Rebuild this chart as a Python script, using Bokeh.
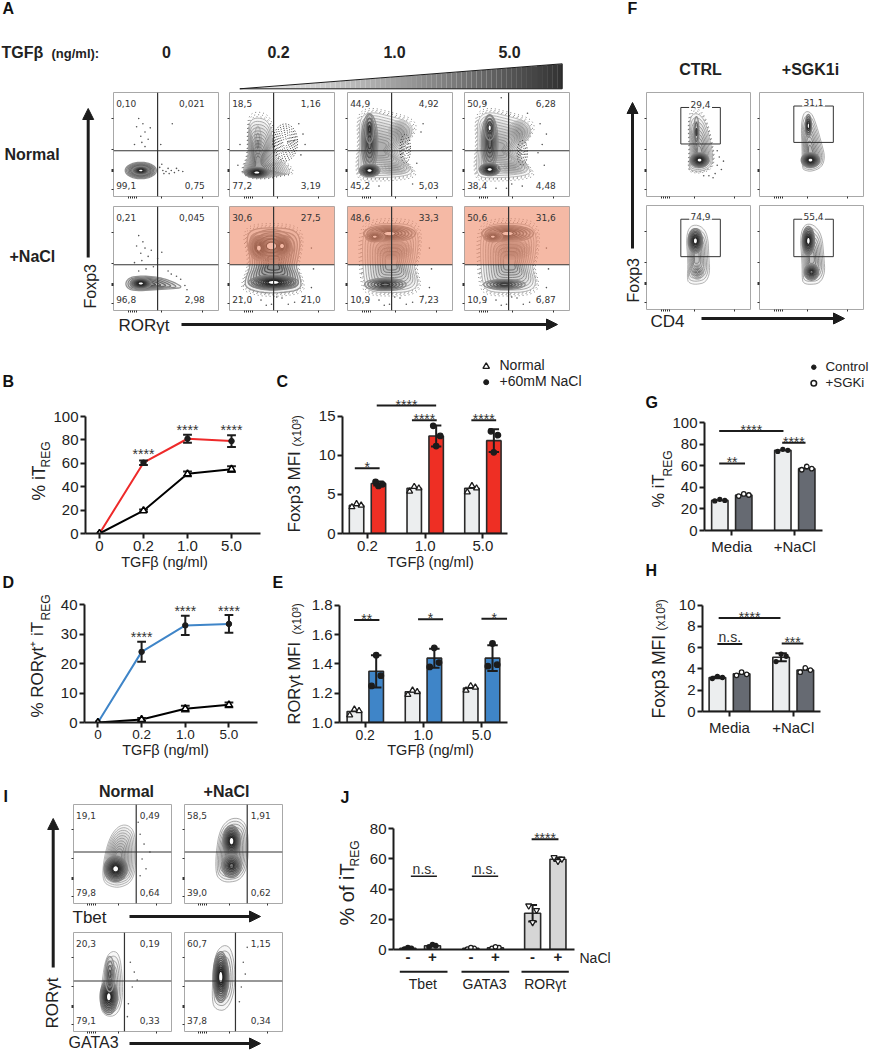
import math
import numpy as np
from bokeh.plotting import figure
from bokeh.layouts import column
from bokeh.embed import file_html
from bokeh.resources import INLINE
from bokeh.core.properties import value
from bokeh.models import Range1d, FixedTicker, NumeralTickFormatter, Arrow, NormalHead

# ---------- data: line charts ----------
tgf_line = ["0", "0.2", "1.0", "5.0"]
tgf_bar = ["0.2", "1.0", "5.0"]
B_normal = [0, 19.5, 51, 55]
B_normal_err = [0, 1, 2, 2.5]
B_nacl = [0, 60.5, 81, 79]
B_nacl_err = [0, 2, 3.5, 5]
D_normal = [0, 1, 4.7, 6]
D_normal_err = [0, 0.5, 1, 0.8]
D_nacl = [0, 24, 33, 33.5]
D_nacl_err = [0, 3.4, 3.3, 3]

# ---------- data: bar charts ----------
C_normal = [3.6, 5.8, 5.8]
C_nacl = [6.4, 12.5, 11.9]
C_normal_pts = [[3.4, 3.6, 3.8], [5.4, 5.8, 6.0], [5.3, 5.8, 6.1]]
C_nacl_pts = [[6.1, 6.3, 6.6], [11.2, 12.5, 13.8], [10.4, 12.6, 13.1]]
C_nacl_err = [0.25, 1.35, 1.45]
E_normal = [1.075, 1.21, 1.235]
E_nacl = [1.35, 1.44, 1.44]
E_normal_pts = [[1.05, 1.08, 1.09], [1.19, 1.21, 1.22], [1.22, 1.24, 1.25]]
E_nacl_pts = [[1.25, 1.32, 1.46], [1.38, 1.41, 1.51], [1.385, 1.395, 1.54]]
E_nacl_err = [0.11, 0.065, 0.088]
group_GH = ["Media", "+NaCl"]
G_ctrl = [28, 74.5]
G_sgk = [33, 57.5]
G_ctrl_pts = [[27.5, 28, 29], [73.5, 74.5, 75.5]]
G_sgk_pts = [[32, 33, 34], [56.5, 57.5, 59.5]]
H_ctrl = [3.2, 5.1]
H_sgk = [3.55, 3.9]
H_ctrl_pts = [[3.1, 3.2, 3.3], [4.7, 5.2, 5.4]]
H_sgk_pts = [[3.4, 3.5, 3.7], [3.7, 3.9, 4.1]]
H_ctrl_err = [0.08, 0.38]
J_pos = [0, 1, 2.56, 3.56, 5.07, 6.1]
J_signs = ["-", "+", "-", "+", "-", "+"]
J_vals = [0.8, 2.5, 0.8, 1.2, 24, 59.8]
J_pts = [[0.3, 0.7, 1.2], [1.7, 2.5, 3.2], [0.2, 0.7, 1.2], [0.7, 1.3, 1.8], [18, 26, 29], [58.5, 60, 61]]
J_err = [0.4, 0.7, 0.5, 0.5, 5.5, 1.2]

# ---------- data: flow panel gates and percentages ----------
A_labels = [
    ["0,10", "0,021", "99,1", "0,75"], ["18,5", "1,16", "77,2", "3,19"],
    ["44,9", "4,92", "45,2", "5,03"], ["50,9", "6,28", "38,4", "4,48"],
    ["0,21", "0,045", "96,8", "2,98"], ["30,6", "27,5", "21,0", "21,0"],
    ["48,6", "33,3", "10,9", "7,23"], ["50,6", "31,6", "10,9", "6,87"],
]
F_labels = ["29,4", "31,1", "74,9", "55,4"]
I_labels = [
    ["19,1", "0,49", "79,8", "0,64"], ["58,5", "1,91", "39,0", "0,62"],
    ["20,3", "0,19", "79,1", "0,33"], ["60,7", "1,15", "37,8", "0,34"],
]
flow_xticks = [14, 16, 18, 20, 22, 46, 85]
flow_yticks = [7, 24, 25, 26, 45, 75]

FONT = "Liberation Sans"
INK = "#1c1c1c"
figs = []


def place(fig, x, y, z=1):
    fig.frame_align = False
    fig.styles = {"position": "absolute", "left": f"{x}px", "top": f"{y}px", "z-index": str(z)}
    figs.append(fig)


# ---------- contour helpers ----------
def E(cx, cy, rx, ry, n=8, s=0.8):
    t = np.linspace(0, 2 * math.pi, 20)[:-1]
    return (list(cx + rx * np.cos(t)), list(cy + ry * np.sin(t)), cx, cy, n, s)


def P(pts, core, n=8, s=0.5):
    return ([a for a, _ in pts], [b for _, b in pts], core[0], core[1], n, s)


def smooth(xs, ys):
    a = np.array([xs, ys], dtype=float).T
    for _ in range(2):
        b = np.roll(a, -1, axis=0)
        a = np.stack([0.75 * a + 0.25 * b, 0.25 * a + 0.75 * b], axis=1).reshape(-1, 2)
    a = np.vstack([a, a[:1]])
    return a[:, 0], a[:, 1]


def flow(x, y, w, h, vl, hl, labels, shapes, stip=(), dots=(), pink=False, rx=87, gate=None, halo=True):
    ML, MB, MT, MR = 5, 5, 1, 1
    p = figure(width=w + ML + MR, height=h + MB + MT, x_range=Range1d(0, 100), y_range=Range1d(0, 100),
               output_backend="svg", toolbar_location=None, min_border_left=ML, min_border_bottom=MB,
               min_border_top=MT, min_border_right=MR, outline_line_color="#a8a8a8", outline_line_width=1,
               background_fill_color="white", border_fill_color=None)
    p.grid.visible = False
    for ax, ticks in ((p.xaxis[0], flow_xticks), (p.yaxis[0], flow_yticks)):
        ax.ticker = FixedTicker(ticks=ticks, minor_ticks=[])
        ax.major_label_overrides = {t: "" for t in ticks}
        ax.axis_line_color = None
        ax.major_tick_out = 2
        ax.major_tick_in = 0
        ax.major_tick_line_color = "#333333"
        ax.minor_tick_line_color = None
    xs, ys, cols, lw, al = [], [], [], [], []
    spots = []
    for k, (ox, oy, cx, cy, n, s) in enumerate(shapes):
        sx, sy = smooth(ox, oy)
        if k == 0 and halo:
            hx = [list(cx + (sx - cx) * f) for f in (1.03, 1.07, 1.12)]
            hy = [list(cy + (sy - cy) * f) for f in (1.03, 1.07, 1.12)]
            p.multi_line(hx, hy, line_color="#333333", line_width=1, line_dash="1 3", line_alpha=0.6)
        for f in np.linspace(1, 0.22, n):
            xs.append(list(cx + (sx - cx) * f))
            ys.append(list(cy + (sy - cy) * f))
            v = int(190 - 190 * s * (1 - f * 0.7))
            cols.append(f"#{v:02x}{v:02x}{v:02x}")
            lw.append(0.8 if s < 0.7 else 1.3)
            al.append(0.03 if s < 0.7 else 0.06)
        if s >= 0.95:
            spots.append((list(cx + (sx - cx) * 0.2), list(cy + (sy - cy) * 0.2)))
    p.patches(xs, ys, fill_color="black", fill_alpha=al, line_color=cols, line_width=lw)
    for sx, sy in spots:
        p.patch(sx, sy, fill_color="white", line_color=None)
    for (ox, oy, cx, cy, n, _) in stip:
        sx, sy = smooth(ox, oy)
        for f in np.linspace(1, 0.2, n):
            p.line(list(cx + (sx - cx) * f), list(cy + (sy - cy) * f), line_color="#222222", line_width=1, line_dash="1 2")
    if dots:
        p.scatter([a for a, _ in dots], [b for _, b in dots], size=1.6, color="#555555", line_color=None)
    if pink:
        p.quad(left=[0], right=[100], bottom=[hl], top=[100], fill_color="#ee8a69", fill_alpha=0.6, line_color=None)
    if gate is None:
        p.segment([vl, 0], [0, hl], [vl, 100], [100, hl], line_color="#333333", line_width=1.2)
        p.text([2.5, rx, 2.5, rx], [89, 89, 11, 11], text=labels,
               text_align=["left", "right", "left", "right"], text_baseline="middle",
               text_font=value("DejaVu Sans"), text_font_size="9px", text_color="#333333")
    else:
        gx0, gx1, gy0, gy1, lab = gate
        p.line([gx0, gx1, gx1, gx0, gx0], [gy0, gy0, gy1, gy1, gy0], line_color="#333333", line_width=1)
        mid = (gx0 + gx1) / 2
        p.quad(left=[mid - 11], right=[mid + 11], bottom=[gy1 - 0.5], top=[gy1 + 7], fill_color="white", line_color=None)
        p.text([mid], [gy1 + 3], text=[lab], text_align="center", text_baseline="middle",
               text_font=value("DejaVu Sans"), text_font_size="9px", text_color="#333333")
    place(p, x - ML, y - MT, 2)
    return p


# ---------- chart helpers ----------
def chart(left, right, y0, ymx, ylo, yhi, x0, step, ftop, yticks, xticks, xlabels, yfont="15px", xfont="15px", xtick=5):
    ML, MR, MT, MB = 40, 4, 4, 24
    scale = (yhi - ylo) / (y0 - ymx)
    yend = yhi + (ymx - ftop) * scale
    W, H = round(right - left), round(y0 - ftop)
    p = figure(width=W + ML + MR, height=H + MT + MB,
               x_range=Range1d((left - x0) / step, (right - x0) / step), y_range=Range1d(ylo, yend),
               output_backend="svg", toolbar_location=None, min_border_left=ML, min_border_right=MR,
               min_border_top=MT, min_border_bottom=MB, outline_line_color=None,
               background_fill_color=None, border_fill_color=None)
    p.grid.visible = False
    for ax in (p.xaxis[0], p.yaxis[0]):
        ax.axis_line_width = 2
        ax.axis_line_color = INK
        ax.major_tick_line_width = 2
        ax.major_tick_line_color = INK
        ax.major_tick_in = 0
        ax.major_tick_out = 5
        ax.minor_tick_line_color = None
        ax.major_label_text_font = FONT
        ax.major_label_text_color = "#222222"
        ax.major_label_standoff = 2
    p.yaxis[0].bounds = (ylo, yhi)
    p.yaxis[0].ticker = FixedTicker(ticks=yticks, minor_ticks=[])
    p.yaxis[0].major_label_text_font_size = yfont
    p.xaxis[0].ticker = FixedTicker(ticks=xticks, minor_ticks=[])
    p.xaxis[0].major_label_overrides = dict(zip(xticks, xlabels))
    p.xaxis[0].major_label_text_font_size = xfont
    p.xaxis[0].major_tick_out = xtick
    place(p, left - ML, ftop - MT, 3)
    return p


def sig(p, x0, x1, y, label="****", off=-1, lw=2):
    p.segment([x0], [y], [x1], [y], line_color=INK, line_width=lw)
    p.text([(x0 + x1) / 2], [y], text=[label], text_align="center", text_baseline="alphabetic", y_offset=off,
           text_font=value(FONT), text_font_size="14px", text_color="#333333")


def stars(p, xs, ys):
    p.text(xs, ys, text=["****"] * len(xs), text_align="center", text_baseline="alphabetic", y_offset=4,
           text_font=value(FONT), text_font_size="14px", text_color="#333333")


def errs(p, x, y, e, cap):
    x, y, e = map(np.array, (x, y, e))
    p.segment(x, y - e, x, y + e, line_color=INK, line_width=2)
    p.segment(x - cap, y + e, x + cap, y + e, line_color=INK, line_width=2)
    p.segment(x - cap, y - e, x + cap, y - e, line_color=INK, line_width=2)


def pts(p, x, rows, off, marker="circle", fill=INK, size=5.5):
    xs, ys = [], []
    for cx, row in zip(x, rows):
        for o, v in zip(off, row):
            xs.append(cx + o)
            ys.append(v)
    p.scatter(xs, ys, marker=marker, size=size, fill_color=fill, line_color=INK, line_width=1.3)


def line_chart(p, normal, nerr, nacl, aerr, col):
    x = list(range(4))
    p.line(x, nacl, line_color=col, line_width=2)
    p.line(x, normal, line_color="black", line_width=2)
    errs(p, x[1:], nacl[1:], aerr[1:], 0.1)
    errs(p, x[1:], normal[1:], nerr[1:], 0.1)
    p.scatter(x, nacl, marker="circle", size=5.5, color=INK)
    p.scatter(x, normal, marker="triangle", size=7, fill_color="white", line_color="black", line_width=1.6)


def bars(p, x, vals, bw, bottom, col):
    p.vbar(x=x, width=bw, top=vals, bottom=bottom, fill_color=col, line_color="#2a2a2a", line_width=1.6)


GREY_W = "#eceeef"
RED = "#ee2f24"
BLUE = "#3f85c8"
SLATE = "#666a72"
J_GREY = "#d6d6d6"
TRI = [-0.08, 0.08, 0.0]
OFF = [-0.08, 0.08, 0.0]

# ---------- B ----------
b = chart(85, 260, 532.7, 416, 0, 100, 99, 44, 405, [0, 20, 40, 60, 80, 100], [0, 1, 2, 3], tgf_line)
line_chart(b, B_normal, B_normal_err, B_nacl, B_nacl_err, "#ee2a2a")
stars(b, [1, 2, 3], [71.7, 92.3, 92.3])

# ---------- D ----------
d = chart(84.3, 257, 722.3, 604.3, 0, 40, 97.7, 43.6, 595, [0, 10, 20, 30, 40], [0, 1, 2, 3], tgf_line, xfont="13.5px")
line_chart(d, D_normal, D_normal_err, D_nacl, D_nacl_err, "#3f85c8")
stars(d, [1, 2, 3], [30.3, 39.2, 39.2])

# ---------- C ----------
c = chart(341.7, 506.7, 533.3, 416, 0, 15, 366.7, 57.7, 395, [0, 5, 10, 15], [0, 1, 2], tgf_bar)
cx = np.array([0, 1, 2])
bars(c, cx - 0.19, C_normal, 0.25, 0, GREY_W)
bars(c, cx + 0.19, C_nacl, 0.25, 0, RED)
errs(c, cx + 0.19, C_nacl, C_nacl_err, 0.09)
pts(c, cx - 0.19, C_normal_pts, TRI, "triangle", "white", 6)
pts(c, cx + 0.19, C_nacl_pts, [0.0, 0.07, -0.05])
sig(c, -0.22, 0.21, 8.35, "*")
sig(c, 0.16, 1.19, 16.4)
sig(c, 0.77, 1.2, 14.5)
sig(c, 1.8, 2.23, 14.5)

# ---------- E ----------
e = chart(339.3, 507.7, 722.3, 605, 1.0, 1.8, 365, 58.3, 595, [1.0, 1.2, 1.4, 1.6, 1.8], [0, 1, 2], tgf_bar, xfont="14px")
e.yaxis[0].formatter = NumeralTickFormatter(format="0.0")
bars(e, cx - 0.185, E_normal, 0.25, 1.0, GREY_W)
bars(e, cx + 0.19, E_nacl, 0.25, 1.0, BLUE)
errs(e, cx + 0.19, E_nacl, E_nacl_err, 0.09)
pts(e, cx - 0.185, E_normal_pts, TRI, "triangle", "white", 6)
pts(e, cx + 0.19, E_nacl_pts, [-0.08, 0.08, 0.0])
sig(e, -0.19, 0.245, 1.70, "**")
sig(e, 0.91, 1.34, 1.705, "*")
sig(e, 2.0, 2.44, 1.71, "*")

# ---------- G ----------
g = chart(703.7, 821.7, 533, 422.7, 0, 100, 731, 63, 412, [0, 20, 40, 60, 80, 100], [0, 1], group_GH)
gx = np.array([0, 1])
bars(g, gx - 0.19, G_ctrl, 0.26, 0, GREY_W)
bars(g, gx + 0.19, G_sgk, 0.26, 0, SLATE)
pts(g, gx - 0.19, G_ctrl_pts, OFF, size=4)
pts(g, gx + 0.19, G_sgk_pts, OFF, fill="white", size=4.5)
sig(g, -0.2, 0.21, 62.3, "**")
sig(g, -0.2, 0.82, 92.4)
sig(g, 0.8, 1.17, 81.5)

# ---------- H ----------
h = chart(702.3, 820.3, 714.3, 605, 0, 10, 729.3, 63.7, 596, [0, 2, 4, 6, 8, 10], [0, 1], group_GH)
bars(h, gx - 0.19, H_ctrl, 0.26, 0, GREY_W)
bars(h, gx + 0.19, H_sgk, 0.26, 0, SLATE)
errs(h, gx - 0.19, H_ctrl, H_ctrl_err, 0.09)
pts(h, gx - 0.19, H_ctrl_pts, OFF, size=4)
pts(h, gx + 0.19, H_sgk_pts, OFF, fill="white", size=4.5)
sig(h, -0.19, 0.2, 6.36, "n.s.", off=-7)
sig(h, -0.17, 0.8, 8.8)
sig(h, 0.82, 1.16, 6.4, "***")

# ---------- J ----------
j = chart(393.3, 574.3, 949.3, 828.3, 0, 80, 407.7, 24.6, 818, [0, 20, 40, 60, 80], J_pos, J_signs, xtick=0)
j.xaxis[0].major_label_text_font_style = "bold"
j.xaxis[0].major_label_text_font_size = "15px"
bars(j, J_pos, J_vals, 0.65, 0, J_GREY)
errs(j, J_pos[4:], J_vals[4:], J_err[4:], 0.18)
jj = np.array(J_pos)
pts(j, jj[:2], J_pts[:2], [-0.14, 0.14, 0.0], size=4.5)
pts(j, jj[2:4], J_pts[2:4], [-0.14, 0.14, 0.0], fill="white", size=4.5)
pts(j, jj[4:], J_pts[4:], [0.0, 0.16, -0.16], "inverted_triangle", "white", 6)
sig(j, 0.12, 1.18, 48.5, "n.s.", off=-7, lw=1.5)
sig(j, 2.6, 3.67, 48.5, "n.s.", off=-7, lw=1.5)
sig(j, 5.03, 6.12, 73.1)

# ---------- A: contour shapes ----------
A1_s = [E(26, 25, 15, 8, 10, 0.8), E(26, 25, 8, 4, 6, 1.0)]
A1_d = [(24, 75), (28, 70), (30, 62), (26, 58), (22, 67), (33, 55), (27, 52), (20, 50), (45, 50), (44, 28), (47, 25), (50, 24),
        (52, 27), (55, 25), (58, 23), (62, 25), (66, 24), (48, 22), (53, 22), (46, 31), (60, 27), (30, 48), (35, 66), (56, 70)]
A2_s = [P([(14, 22), (13, 27), (18, 38), (18, 60), (19, 72), (25, 76), (35, 74), (40, 65), (41, 45), (45, 36), (55, 30), (58, 22),
           (50, 21), (35, 18), (22, 18)], (27, 28), 13, 0.6),
        E(26, 23, 12, 5, 8, 1.0), E(27, 50, 3.5, 18, 3, 0.6)]
A2_st = [E(53, 52, 12, 18, 8)]
A3_out = [(12, 20), (10, 30), (12, 50), (11, 70), (15, 79), (25, 81), (37, 78), (45, 76), (58, 72), (63, 64), (56, 52), (50, 44),
          (53, 36), (60, 28), (62, 22), (50, 19), (30, 18), (18, 18)]
A3_s = [P(A3_out, (30, 45), 11, 0.4), E(21, 52, 8, 28, 6, 0.8), E(21, 25, 10, 6, 8, 1.0), E(21, 65, 4, 14, 4, 0.9),
        E(50, 62, 11, 11, 8, 0.25), E(45, 27, 15, 6, 5, 0.25)]
A3_st = [E(55, 46, 5, 14, 4)]
A4_out = [(x + 1, y) for x, y in A3_out]
A4_s = [P(A4_out, (31, 45), 11, 0.4), E(24, 52, 8, 27, 6, 0.8), E(24, 26, 10, 6, 8, 1.0), E(24, 66, 5, 12, 4, 0.95),
        E(52, 62, 11, 11, 8, 0.25), E(46, 28, 15, 6, 5, 0.25)]
A4_st = [E(55, 42, 5, 12, 4)]
A4_d = [(60, 80), (72, 70), (78, 60), (74, 50), (70, 42), (76, 30), (55, 10), (45, 12), (40, 8), (20, 90), (35, 95), (30, 8)]
A5_s = [P([(11, 25), (14, 31), (22, 33), (32, 33), (42, 32), (50, 30), (60, 26), (66, 22), (55, 21), (40, 20), (25, 19), (15, 20)],
          (27, 26), 7, 0.75), E(26, 26, 10, 5, 8, 1.0)]
A5_d = [(24, 72), (28, 66), (30, 60), (26, 55), (22, 62), (33, 52), (27, 48), (20, 46), (36, 58), (38, 42), (31, 40), (24, 38),
        (42, 50), (46, 56), (68, 24), (64, 30), (60, 33), (55, 35), (52, 38), (70, 20)]
A6_s = [P([(15, 22), (15, 30), (20, 42), (19, 55), (16, 68), (20, 78), (40, 80), (62, 78), (68, 68), (65, 50), (63, 42), (68, 30),
           (68, 20), (50, 17), (30, 17)], (42, 45), 9, 0.7),
        E(42, 27, 24, 7, 9, 1.0), E(28, 60, 9, 12, 7, 1.0), E(50, 62, 9, 10, 7, 1.0), E(40, 62, 22, 16, 5, 1.0)]
A7_out = [(16, 25), (14, 55), (15, 75), (24, 83), (45, 84), (62, 82), (68, 72), (66, 50), (63, 42), (68, 25), (60, 18), (40, 17), (22, 18)]
A7_s = [P(A7_out, (42, 45), 10, 0.6), E(40, 74, 25, 8, 7, 0.95), E(26, 71, 9, 5, 5, 1.0), E(36, 25, 20, 6, 6, 0.85), E(44, 58, 18, 9, 7, 0.5)]
A8_s = [P([(x + 1, y) for x, y in A7_out], (43, 45), 10, 0.6), E(41, 74, 25, 8, 7, 0.95), E(27, 71, 9, 5, 5, 1.0),
        E(38, 25, 20, 5, 6, 0.8), E(46, 58, 18, 9, 7, 0.5)]
A_bottom_d = [(20, 8), (30, 10), (40, 6), (50, 12), (62, 8), (72, 14), (78, 22), (80, 40), (78, 60), (12, 12), (56, 6), (45, 13), (35, 5)]

# ---------- F: contour shapes ----------
F1_s = [P([(41, 27), (42, 45), (41, 70), (44, 80), (52, 79), (58, 68), (62, 50), (64, 38), (62, 28), (52, 24), (44, 25)], (51, 40), 9, 0.6),
        E(51, 35, 9, 7, 8, 1.0), E(48, 62, 2.5, 15, 3, 0.8)]
F1_d = [(68, 30), (72, 26), (66, 22), (74, 34), (60, 20), (70, 38), (64, 18), (55, 20), (68, 44)]
F2_s = [P([(41, 27), (41, 45), (40, 70), (43, 82), (50, 81), (55, 68), (60, 50), (63, 38), (60, 28), (50, 24), (44, 25)], (49, 40), 9, 0.6),
        E(49, 35, 9, 7, 8, 1.0), E(47, 68, 3, 11, 5, 1.0)]
F3_s = [P([(39, 28), (40, 45), (38, 70), (42, 81), (52, 81), (59, 72), (60, 50), (61, 35), (57, 26), (48, 24), (42, 25)], (48, 50), 8, 0.5),
        E(47, 66, 7, 12, 8, 1.0), E(49, 36, 6, 7, 5, 0.65)]
F4_s = [P([(41, 28), (41, 45), (39, 70), (43, 82), (52, 82), (60, 72), (62, 50), (63, 35), (58, 25), (48, 24), (43, 25)], (50, 50), 8, 0.6),
        E(47, 66, 6, 14, 8, 1.0), E(50, 36, 7, 8, 7, 0.9)]

# ---------- I: contour shapes ----------
I1_s = [P([(30, 22), (30, 40), (36, 65), (45, 78), (55, 80), (63, 72), (64, 40), (60, 22), (48, 16), (38, 17)], (45, 45), 11, 0.45),
        E(43, 35, 12, 13, 9, 1.0)]
I1_d = [(68, 70), (72, 60), (70, 45), (74, 35), (68, 28), (66, 82), (78, 52)]
I2_s = [P([(32, 30), (32, 50), (36, 75), (46, 86), (58, 86), (65, 75), (65, 40), (58, 24), (44, 21), (36, 24)], (48, 52), 10, 0.65),
        E(48, 63, 9, 16, 9, 1.0), E(48, 38, 10, 12, 7, 0.9)]
I3_s = [P([(27, 24), (29, 50), (33, 75), (40, 82), (47, 78), (50, 55), (50, 30), (44, 16), (33, 15)], (38, 45), 7, 0.5),
        E(36, 35, 9, 18, 9, 1.0), E(37, 58, 5, 18, 4, 0.7)]
I3_d = [(62, 60), (60, 45), (56, 28), (58, 70), (55, 15), (65, 52)]
I4_s = [P([(28, 30), (29, 60), (32, 80), (40, 88), (48, 84), (52, 60), (50, 35), (42, 21), (32, 22)], (39, 52), 6, 0.65),
        E(37, 55, 8, 26, 10, 1.0)]
I4_d = [(60, 70), (62, 58), (58, 45), (64, 85), (56, 30)]

# ---------- flow panels ----------
ax_col = [113, 229, 347, 464]
ay_row = [92, 206]
a_args = [
    (A1_s, (), A1_d, False), (A2_s, A2_st, [(70, 60), (68, 40), (66, 70), (10, 50), (8, 30), (72, 50)], False),
    (A3_s, A3_st, [(70, 62), (66, 32), (72, 70), (62, 12), (30, 10)], False), (A4_s, A4_st, A4_d, False),
    (A5_s, (), A5_d, False), (A6_s, (), A_bottom_d, True), (A7_s, (), A_bottom_d, True), (A8_s, (), A_bottom_d, True),
]
for i, (sh, st, dt, pk) in enumerate(a_args):
    flow(ax_col[i % 4], ay_row[i // 4], 105, 104, 42, 44, A_labels[i], sh, st, dt, pk, halo=i not in (0, 4))

f_x = [646, 759]
f_y = [92, 205]
f_args = [(F1_s, F1_d, 33, 71, 50.5, 85.6), (F2_s, (), 33, 71, 52, 87), (F3_s, (), 33, 71, 50.8, 86.8), (F4_s, (), 33, 71, 50.8, 86.8)]
for i, (sh, dt, g0, g1, g2, g3) in enumerate(f_args):
    flow(f_x[i % 2], f_y[i // 2], 104, 104, 0, 0, None, sh, (), dt, gate=(g0, g1, g2, g3, F_labels[i]), halo=i == 0)

i_x = [73, 184]
i_y = [804, 932]
i_args = [(I1_s, I1_d, 64, 52), (I2_s, (), 64, 52), (I3_s, I3_d, 52, 51), (I4_s, I4_d, 52, 51)]
for i, (sh, dt, vl, hl) in enumerate(i_args):
    flow(i_x[i % 2], i_y[i // 2], 98, 99, vl, hl, I_labels[i], sh, (), dt, rx=88, halo=False)


# ---------- overlays: text, arrows, wedge ----------
def overlay(x, y, w, h):
    o = figure(width=w, height=h, x_range=Range1d(x, x + w), y_range=Range1d(y + h, y), output_backend="svg",
               toolbar_location=None, min_border_left=0, min_border_right=0, min_border_top=0, min_border_bottom=0,
               outline_line_color=None, background_fill_color=None,
               border_fill_color=None, x_axis_location=None, y_axis_location=None)
    o.grid.visible = False
    place(o, x, y, 5)
    return o


ov = overlay(0, 0, 854, 1034)
ov_legend = overlay(800, 355, 70, 40)
ov_bottom = overlay(0, 1020, 300, 30)


def T(x, y, s, size=15, bold=False, align="left", base="middle", angle=0, col="#222222", font=FONT, fig=None):
    (fig or ov).text([x], [y], text=[s], text_font=value(font), text_font_size=f"{size}px",
                     text_font_style="bold" if bold else "normal", text_align=align, text_baseline=base,
                     angle=angle, text_color=col)


def V(x, y, s, size=17):
    T(x, y, s, size, angle=math.pi / 2)


def arrow(x0, y0, x1, y1, fig=None):
    (fig or ov).add_layout(Arrow(end=NormalHead(size=11, fill_color=INK, line_color=INK), x_start=x0, y_start=y0, x_end=x1, y_end=y1,
                                 line_color=INK, line_width=3))


for s, x, y in [("A", 2, 8), ("B", 2, 381), ("C", 276, 381), ("D", 2, 582), ("E", 272, 582), ("F", 627, 8), ("G", 645, 402),
                ("H", 645, 570), ("I", 3, 796), ("J", 340, 797)]:
    T(x, y, s, 16, True, col="#111111")

# panel A text
T(1, 52, "TGFβ", 16, True)
T(51, 53, "(ng/ml):", 13, True)
for x, s in zip([166, 278, 394, 509], ["0", "0.2", "1.0", "5.0"]):
    T(x, 51, s, 16, True, "center")
T(4, 154, "Normal", 16, True)
T(9, 256, "+NaCl", 16, True)
V(89.5, 308, "Foxp3", 16)
T(118, 324.5, "RORγt", 17)
arrow(87.7, 257, 87.7, 108)
arrow(181, 324, 557, 324)

# wedge
slices = 64
wx = np.linspace(239.3, 561.7, slices + 1)
wtop = 88.3 - (wx - 239.3) / 322.4 * 25
shade = [int(238 - 190 * (k / slices) ** 1.2) for k in range(slices)]
ov.quad(left=wx[:-1], right=wx[1:], top=wtop[:-1], bottom=[88.3] * slices, fill_color=[f"#{v:02x}{v:02x}{v:02x}" for v in shade],
        line_color=None)
ov.line([239.3, 561.7, 561.7, 239.3], [88.3, 63.3, 88.3, 88.3], line_color=INK, line_width=1)

# panel F text
T(700, 69, "CTRL", 16, True, "center")
T(810, 69, "+SGK1i", 16, True, "center")
V(633, 302, "Foxp3", 16)
T(650, 320.5, "CD4", 17)
arrow(632, 248, 632, 102)
arrow(701, 318, 844, 318)

# axis titles
T(164, 561, "TGFβ (ng/ml)", 14.5, align="center")
T(165, 749, "TGFβ (ng/ml)", 14.5, align="center")
T(430, 561, "TGFβ (ng/ml)", 14.5, align="center")
T(430, 749, "TGFβ (ng/ml)", 14.5, align="center")
V(38, 500, "% iT", 17.5)
V(45.5, 467, "REG", 12)
V(37, 717, "% RORγt⁺ iT", 17)
V(45.5, 620, "REG", 12)
V(293.7, 532, "Foxp3 MFI", 17)
V(296, 446, "(x10³)", 12)
V(293.5, 724, "RORγt MFI", 16.5)
V(296.7, 634, "(x10³)", 12)
V(657.5, 507, "% iT", 16.5)
V(667, 476, "REG", 12)
V(658, 718, "Foxp3 MFI", 17.5)
V(660.7, 630, "(x10³)", 12)
V(346, 925, "% of iT", 20)
V(354, 866, "REG", 12)

# J group rules and names
ov.segment([399.3, 461, 521], [971.3] * 3, [447, 508.7, 568.3], [971.3] * 3, line_color=INK, line_width=2)
T(422.3, 983, "Tbet", 14, align="center")
T(484, 983, "GATA3", 14, align="center")
T(544.7, 983, "RORγt", 14, align="center")
T(579, 957, "NaCl", 14)

# legends
ov.scatter([485.7], [366], marker="triangle", size=6.5, fill_color="white", line_color=INK, line_width=1.4)
ov.scatter([485.7], [381.7], marker="circle", size=5, color=INK)
T(499, 364.5, "Normal", 14)
T(499, 380, "+60mM NaCl", 14)
ov_legend.scatter([813.3], [366.7], marker="circle", size=4.5, color=INK)
ov_legend.scatter([813.3], [382.7], marker="circle", size=5.5, fill_color="white", line_color=INK, line_width=1.6)
T(825, 365.5, "Control", 13.3, fig=ov_legend)
T(825, 381.5, "+SGKi", 13.3, fig=ov_legend)

# panel I text
T(126, 791, "Normal", 16, True, "center")
T(226, 791, "+NaCl", 16, True, "center")
T(72, 916.5, "Tbet", 17)
T(68, 1042, "GATA3", 16, fig=ov_bottom)
V(52, 1028, "RORγt", 17)
arrow(129, 916, 260, 916)
arrow(129, 1043, 260, 1043, fig=ov_bottom)
arrow(52.7, 967, 52.7, 818)

root = column(*figs, width=854, height=1034, sizing_mode="fixed", styles={"position": "relative", "display": "block"})
open("out.html", "w").write(file_html(root, INLINE))
